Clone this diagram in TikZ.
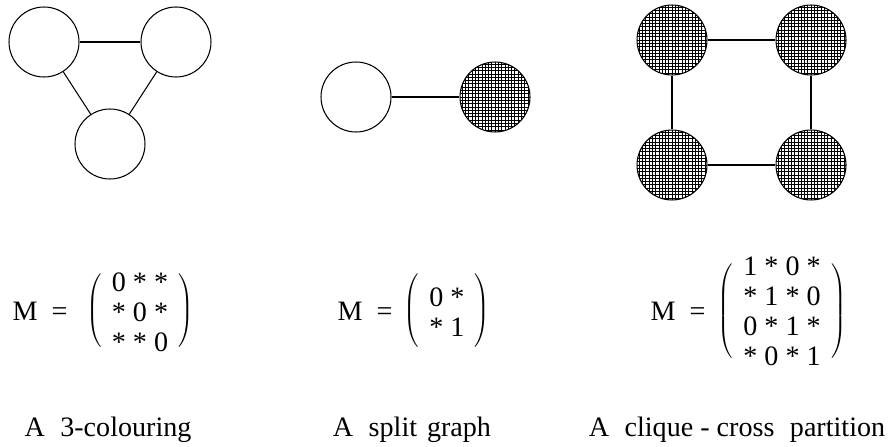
\documentclass[tikz,border=0pt]{standalone}
\usepackage{fontspec}
\setmainfont{Liberation Serif}
\usetikzlibrary{matrix,positioning}

\begin{document}
\begin{tikzpicture}[x=0.02cm,y=-0.02cm,
  font=\fontsize{16}{19}\selectfont,
  vertex/.style={draw,circle,minimum size=1.4cm,inner sep=0pt,line width=0.6pt},
  hatched/.style={vertex,path picture={
      \draw[line width=0.35pt] (path picture bounding box.south west)
        grid[step=0.066cm] (path picture bounding box.north east);}},
  edge/.style={line width=0.6pt},
  mat/.style={matrix of nodes,left delimiter=(,right delimiter=),
        inner xsep=4.5pt,inner ysep=-2.5pt,row sep=6pt,
        nodes={inner sep=0pt,text height=11pt,text depth=0pt}}]
  \useasboundingbox (0,0) rectangle (891,446);
  % a 3-colouring
  \node[vertex] (a1) at (44,42) {};
  \node[vertex] (a2) at (176,42) {};
  \node[vertex] (a3) at (110,144) {};
  \draw[edge] (a1) -- (a2);
  \draw[edge] (a1) -- (a3);
  \draw[edge] (a2) -- (a3);
  \node (ma) at (40,311) {M\hspace{0.5em}=};
  \matrix[mat] (m1) at (140,312) {0 * *\\ * 0 *\\ * * 0\\};
  \node[anchor=base] (ta) at (108,436) {A\hspace{0.3em} 3-colouring};
  % a split graph
  \node[vertex] (b1) at (356,97) {};
  \node[hatched] (b2) at (495,97) {};
  \draw[edge] (b1) -- (b2);
  \node (mb) at (365,311) {M\hspace{0.5em}=};
  \matrix[mat,inner ysep=6pt] (m2) at (447,312) {0 *\\ * 1\\};
  \node[anchor=base] (tb) at (412,436) {A\hspace{0.3em} split\hspace{0.1em} graph};
  % a clique-cross partition
  \node[hatched] (c1) at (672,40) {};
  \node[hatched] (c2) at (811,40) {};
  \node[hatched] (c3) at (672,165) {};
  \node[hatched] (c4) at (811,165) {};
  \draw[edge] (c1) -- (c2);
  \draw[edge] (c1) -- (c3);
  \draw[edge] (c2) -- (c4);
  \draw[edge] (c3) -- (c4);
  \node (mc) at (678,311) {M\hspace{0.5em}=};
  \matrix[mat] (m3) at (782,311) {1 * 0 *\\ * 1 * 0\\ 0 * 1 *\\ * 0 * 1\\};
  \node[anchor=base] (tc) at (737,436) {A\hspace{0.3em} clique - cross\hspace{0.3em} partition};
\end{tikzpicture}
\end{document}
